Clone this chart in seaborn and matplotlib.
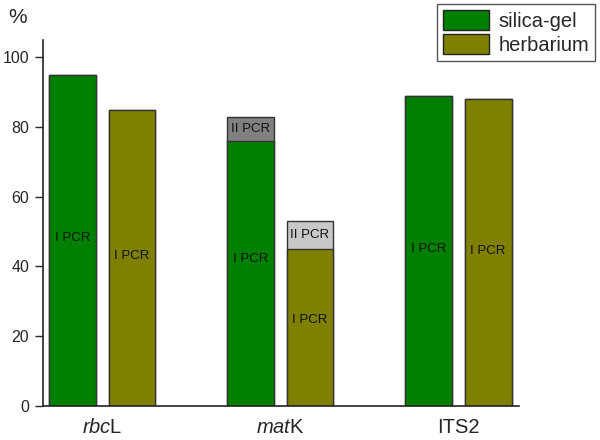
import pandas as pd
import matplotlib
matplotlib.use('Agg')
import matplotlib.pyplot as plt
from matplotlib.patches import Patch
import seaborn as sns

# data (% success)
markers = ['rbcL', 'matK', 'ITS2']
tick_labels = [r'$\mathit{rbc}$L', r'$\mathit{mat}$K', 'ITS2']
samples = ['silica-gel', 'herbarium']
first_pcr = {'silica-gel': [95, 76, 89], 'herbarium': [85, 45, 88]}
after_second_pcr = {'silica-gel': [95, 83, 89], 'herbarium': [85, 53, 88]}

# where the text sits inside each bar
first_label_y = {'silica-gel': [48, 42, 45], 'herbarium': [43, 24.5, 44.5]}
second_label_y = {'silica-gel': 79.5, 'herbarium': 49}

colors = {'silica-gel': '#008000', 'herbarium': '#808000'}
second_colors = {'silica-gel': '#808080', 'herbarium': '#c8c8c8'}

rows1, rows2 = [], []
for s in samples:
    for m, v1, v2 in zip(markers, first_pcr[s], after_second_pcr[s]):
        rows1.append({'marker': m, 'sample': s, 'value': v1})
        rows2.append({'marker': m, 'sample': s, 'value': v2})
df1 = pd.DataFrame(rows1)
df2 = pd.DataFrame(rows2)

sns.set_style('ticks')
plt.rcParams['font.family'] = ['Liberation Sans', 'DejaVu Sans']
plt.rcParams['mathtext.fontset'] = 'custom'
plt.rcParams['mathtext.rm'] = 'Liberation Sans'
plt.rcParams['mathtext.it'] = 'Liberation Sans:italic'

fig = plt.figure(figsize=(6, 4.4), dpi=100)
ax = fig.add_axes([0.0717, 0.0784, 0.7925, 0.8306])

width, gap = 0.667, 0.209
sns.barplot(data=df2, x='marker', y='value', hue='sample', order=markers,
            hue_order=samples, palette=second_colors, width=width, gap=gap,
            saturation=1, errorbar=None, edgecolor='#333333', linewidth=1,
            legend=False, ax=ax)
sns.barplot(data=df1, x='marker', y='value', hue='sample', order=markers,
            hue_order=samples, palette=colors, width=width, gap=gap,
            saturation=1, errorbar=None, edgecolor='#333333', linewidth=1,
            legend=False, ax=ax)

# bar text
off = width / 4
for j, s in enumerate(samples):
    dx = -off if j == 0 else off
    for i, m in enumerate(markers):
        ax.text(i + dx, first_label_y[s][i], 'I PCR', ha='center', va='center',
                fontsize=9.5, color='#111111')
        if after_second_pcr[s][i] > first_pcr[s][i]:
            ax.text(i + dx, second_label_y[s], 'II PCR', ha='center', va='center',
                    fontsize=9.5, color='#111111')

ax.set_xlim(-0.333, 2.338)
ax.set_ylim(0, 105)
ax.set_yticks([0, 20, 40, 60, 80, 100])
ax.set_xticks(range(len(markers)))
ax.set_xticklabels(tick_labels, fontsize=14.5)
ax.tick_params(axis='x', length=0, pad=9)
ax.tick_params(axis='y', length=6, width=1, labelsize=11.5, pad=4, direction='out')
ax.set_xlabel('')
ax.set_ylabel('')
sns.despine(ax=ax)
for sp in ['left', 'bottom']:
    ax.spines[sp].set_color('#222222')
    ax.spines[sp].set_linewidth(1.2)

fig.text(0.03, 0.96, '%', fontsize=15, ha='center', va='center')

handles = [Patch(facecolor=colors[s], edgecolor='#222222', linewidth=1, label=s)
           for s in samples]
leg = fig.legend(handles=handles, loc='upper right', bbox_to_anchor=(0.992, 0.991),
                 fontsize=14.5, handlelength=2.3, handleheight=1.15, labelspacing=0.15,
                 handletextpad=0.45, borderpad=0.3, borderaxespad=0, fancybox=False,
                 framealpha=1)
leg.get_frame().set_edgecolor('#555555')
leg.get_frame().set_linewidth(1)

plt.savefig('out.png', dpi=100)
